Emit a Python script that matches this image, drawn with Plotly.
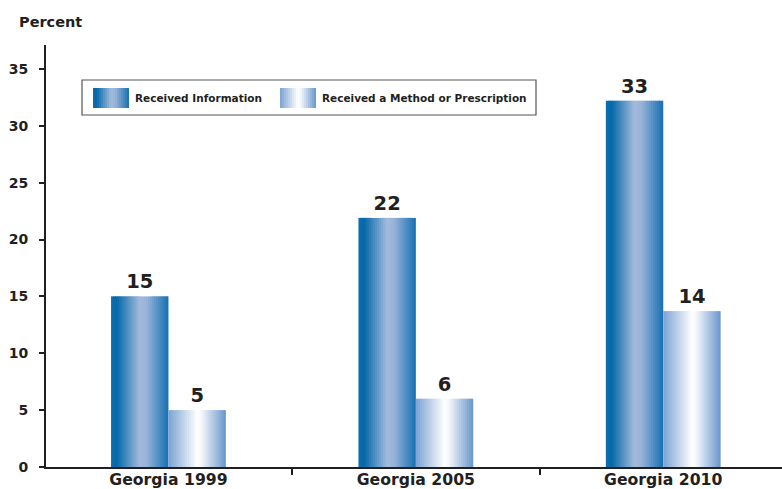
import plotly.graph_objects as go

# ---------------- data ----------------
categories = ["Georgia 1999", "Georgia 2005", "Georgia 2010"]
series_names = ["Received Information", "Received a Method or Prescription"]
info_values = [15.0, 21.9, 32.2]
info_labels = ["15", "22", "33"]
method_values = [5.0, 6.0, 13.7]
method_labels = ["5", "6", "14"]
y_tick_values = [0, 5, 10, 15, 20, 25, 30, 35]

# ---------------- styling ----------------
FONT = "DejaVu Sans"
INK = "#231f20"
W_FIG, H_FIG = 782, 489
M_L, M_R, M_T, M_B = 46, 0, 45, 22
PLOT_W = W_FIG - M_L - M_R
PLOT_H = H_FIG - M_T - M_B

BAR_W = 0.232
N_SLICES = 28
info_stops = [(0.0, "#0a6eb0"), (0.1, "#0668a8"), (0.5, "#a3bbdc"), (0.62, "#98b3d8"), (1.0, "#1670b2")]
method_stops = [(0.0, "#7aa2d2"), (0.5, "#ffffff"), (0.58, "#f3f6fb"), (1.0, "#6796cb")]


def hex2rgb(h):
    h = h.lstrip("#")
    return tuple(int(h[i:i + 2], 16) for i in (0, 2, 4))


def grad(stops, t):
    for (t0, c0), (t1, c1) in zip(stops[:-1], stops[1:]):
        if t0 <= t <= t1:
            f = 0 if t1 == t0 else (t - t0) / (t1 - t0)
            a, b = hex2rgb(c0), hex2rgb(c1)
            return "rgb(%d,%d,%d)" % tuple(round(a[i] + (b[i] - a[i]) * f) for i in range(3))
    return stops[-1][1]


fig = go.Figure()


def add_gradient_bars(values, start_offset, stops, name):
    step = BAR_W / N_SLICES
    for k in range(N_SLICES):
        t = (k + 0.5) / N_SLICES
        extra = step * 0.6 if k < N_SLICES - 1 else 0
        fig.add_trace(go.Bar(
            x=categories, y=values, name=name,
            width=step + extra, offset=start_offset + k * step,
            marker=dict(color=grad(stops, t), line=dict(width=0)),
            showlegend=False, hoverinfo="skip",
        ))


add_gradient_bars(info_values, -BAR_W, info_stops, series_names[0])
add_gradient_bars(method_values, 0.0, method_stops, series_names[1])

# value labels
for vals, labs, off, nm in [(info_values, info_labels, -BAR_W, series_names[0]),
                            (method_values, method_labels, 0.0, series_names[1])]:
    fig.add_trace(go.Bar(
        x=categories, y=vals, name=nm, width=BAR_W, offset=off,
        marker=dict(color="rgba(0,0,0,0)", line=dict(width=0)),
        text=labs, textposition="outside", constraintext="none",
        textfont=dict(family=FONT, size=19.5, color=INK, weight="bold"),
        cliponaxis=False, showlegend=False,
        hovertemplate="%{x}<br>" + nm + ": %{text}%<extra></extra>",
    ))


# ---------------- manual legend ----------------
def px(xp):
    return (xp - M_L) / PLOT_W


def py(yp):
    return (H_FIG - M_B - yp) / PLOT_H


shapes = [dict(type="rect", xref="paper", yref="paper",
               x0=px(82), x1=px(536), y0=py(115), y1=py(80),
               line=dict(color="#555555", width=1.2), fillcolor="white", layer="above")]
annotations = []
legend_items = [(93, 129, 133, info_stops, series_names[0]),
                (280, 316, 320, method_stops, series_names[1])]
for x0, x1, tx, stops, label in legend_items:
    n = 18
    step = (x1 - x0) / n
    for k in range(n):
        shapes.append(dict(type="rect", xref="paper", yref="paper",
                           x0=px(x0 + k * step), x1=px(x0 + (k + 1) * step + (0.6 if k < n - 1 else 0)),
                           y0=py(108), y1=py(88), line=dict(width=0),
                           fillcolor=grad(stops, (k + 0.5) / n), layer="above"))
    annotations.append(dict(xref="paper", yref="paper", x=px(tx), y=py(98.5),
                            xanchor="left", yanchor="middle", showarrow=False, text=label,
                            font=dict(family=FONT, size=10.5, color=INK, weight="bold")))

annotations.append(dict(xref="paper", yref="paper", x=px(17), y=py(22),
                        xanchor="left", yanchor="middle", showarrow=False, text="Percent",
                        font=dict(family=FONT, size=14.5, color=INK, weight="bold")))

fig.update_layout(
    width=W_FIG, height=H_FIG,
    margin=dict(l=M_L, r=M_R, t=M_T, b=M_B, autoexpand=False),
    paper_bgcolor="white", plot_bgcolor="white",
    barmode="overlay",
    showlegend=False,
    shapes=shapes, annotations=annotations,
    font=dict(family=FONT, color=INK),
)
fig.update_xaxes(
    type="category", categoryorder="array", categoryarray=categories,
    range=[-0.495, 2.48], automargin=False,
    showline=True, linecolor=INK, linewidth=2,
    ticks="outside", tickson="boundaries", ticklen=6, tickwidth=2, tickcolor=INK,
    ticklabelstandoff=-3,
    showgrid=False, zeroline=False,
    tickfont=dict(family=FONT, size=15.7, color=INK, weight="bold"),
)
fig.update_yaxes(
    range=[0, 37.1], tickvals=y_tick_values, automargin=False,
    showline=True, linecolor=INK, linewidth=2,
    ticks="outside", ticklen=5, tickwidth=2, tickcolor=INK,
    ticklabelstandoff=8,
    showgrid=False, zeroline=False,
    tickfont=dict(family=FONT, size=14, color=INK, weight="bold"),
)

fig.write_html("out.html", config={"displayModeBar": False},
               post_script="document.body.style.margin='0';document.body.style.overflow='hidden';")
